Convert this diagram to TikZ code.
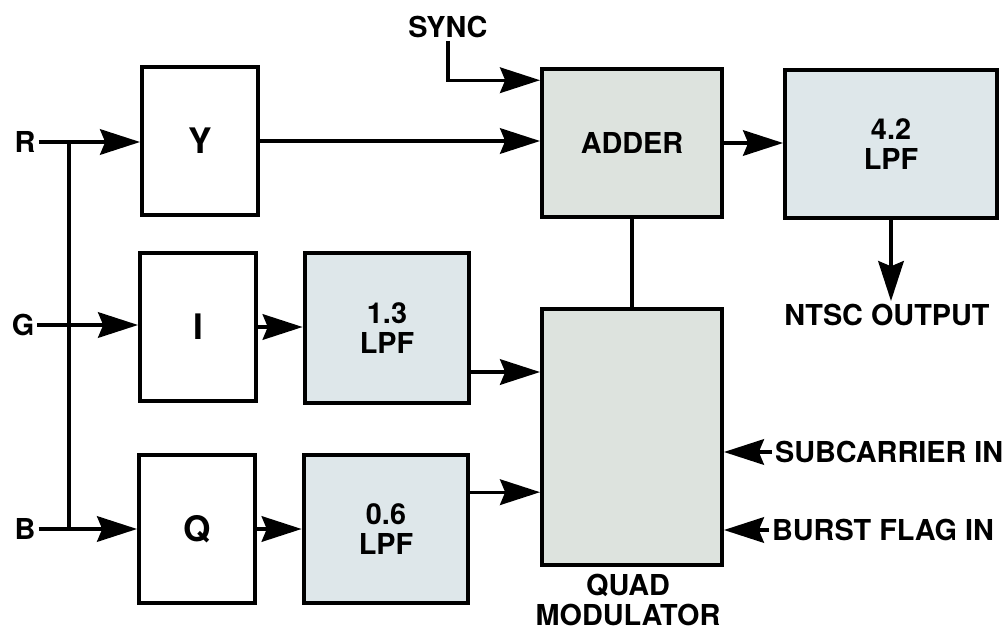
\documentclass[tikz,border=0pt]{standalone}
\usepackage{fontspec}
\setmainfont{TeX Gyre Heros}
\usepackage{xcolor}
\usetikzlibrary{arrows.meta}

\definecolor{addgray}{HTML}{DDE3DE}
\definecolor{lpfblue}{HTML}{DEE7EA}

\tikzset{
  blk/.style={draw,line width=2.8pt,inner sep=0pt,minimum width=2.9cm,minimum height=3.68cm,font=\fontsize{25}{26}\selectfont\bfseries},
  lpf/.style={draw,line width=2.8pt,fill=lpfblue,inner sep=0pt,align=center,font=\fontsize{20.5}{21.3}\selectfont\bfseries},
  txt/.style={inner sep=2pt,align=center,font=\fontsize{20.5}{21.3}\selectfont\bfseries},
  wire/.style={line width=2.3pt},
  sig/.style={line width=2.3pt,-{Stealth[length=1cm,width=0.64cm,inset=0.13cm]}},
}

\begin{document}
\begin{tikzpicture}[x=0.025cm,y=-0.025cm]
\useasboundingbox (0,0) rectangle (1007,631);

% inputs
\node[txt] (R) at (25,142) {R};
\node[txt] (G) at (23,325) {G};
\node[txt] (B) at (25,529) {B};

% matrix blocks
\node[blk] (Y) at (200,141) {Y};
\node[blk] (I) at (198,327) {I};
\node[blk] (Q) at (197,529) {Q};

% filters
\node[lpf,minimum width=4.12cm,minimum height=3.75cm] (LPF13) at (387,328) {1.3\\LPF};
\node[lpf,minimum width=4.12cm,minimum height=3.68cm] (LPF06) at (386,529) {0.6\\LPF};
\node[lpf,minimum width=5.3cm,minimum height=3.68cm] (LPF42) at (891,144) {4.2\\LPF};

\node[lpf,fill=addgray,minimum width=4.5cm,minimum height=3.7cm] (ADDER) at (632,143) {ADDER};
\node[lpf,fill=addgray,minimum width=4.5cm,minimum height=6.38cm] (QUAD) at (632,437) {};

% labels
\node[txt] (sync) at (448,27) {SYNC};
\node[txt] (ntsc) at (887,315) {NTSC OUTPUT};
\node[txt,anchor=west] (subc) at (772,452) {SUBCARRIER IN};
\node[txt,anchor=west] (burst) at (769,530) {BURST FLAG IN};
\node[txt] (quadlbl) at (628,600) {QUAD\\MODULATOR};

% RGB bus
\coordinate (rtap) at (69,142);
\coordinate (btap) at (69,529);
\draw[wire] (rtap) -- (btap);
\draw[sig] (R.east) -- (R -| Y.west);
\draw[sig] (G.east) -- (G -| I.west);
\draw[sig] (B.east) -- (B -| Q.west);

% luminance path
\draw[sig] (Y.east) -- (Y -| ADDER.west);
\draw[sig] (sync.south) |- ([yshift=-0.33cm]ADDER.north west);
\draw[sig] (ADDER.east) -- (ADDER -| LPF42.west);
\draw[sig] (LPF42.south) -- (LPF42.south |- ntsc.north);
\draw[wire] (ADDER.south) -- (QUAD.north);

% chroma path
\draw[sig] (I.east) -- (I -| LPF13.west);
\draw[sig] (Q.east) -- (Q -| LPF06.west);
\coordinate (iout) at ([yshift=-1.1cm]LPF13.east);
\coordinate (qout) at ([yshift=0.92cm]LPF06.east);
\draw[sig] (iout) -- (iout -| QUAD.west);
\draw[sig] (qout) -- (qout -| QUAD.west);
\draw[sig] (subc.west) -- (subc.west -| QUAD.east);
\draw[sig] (burst.west) -- (burst.west -| QUAD.east);
\end{tikzpicture}
\end{document}
